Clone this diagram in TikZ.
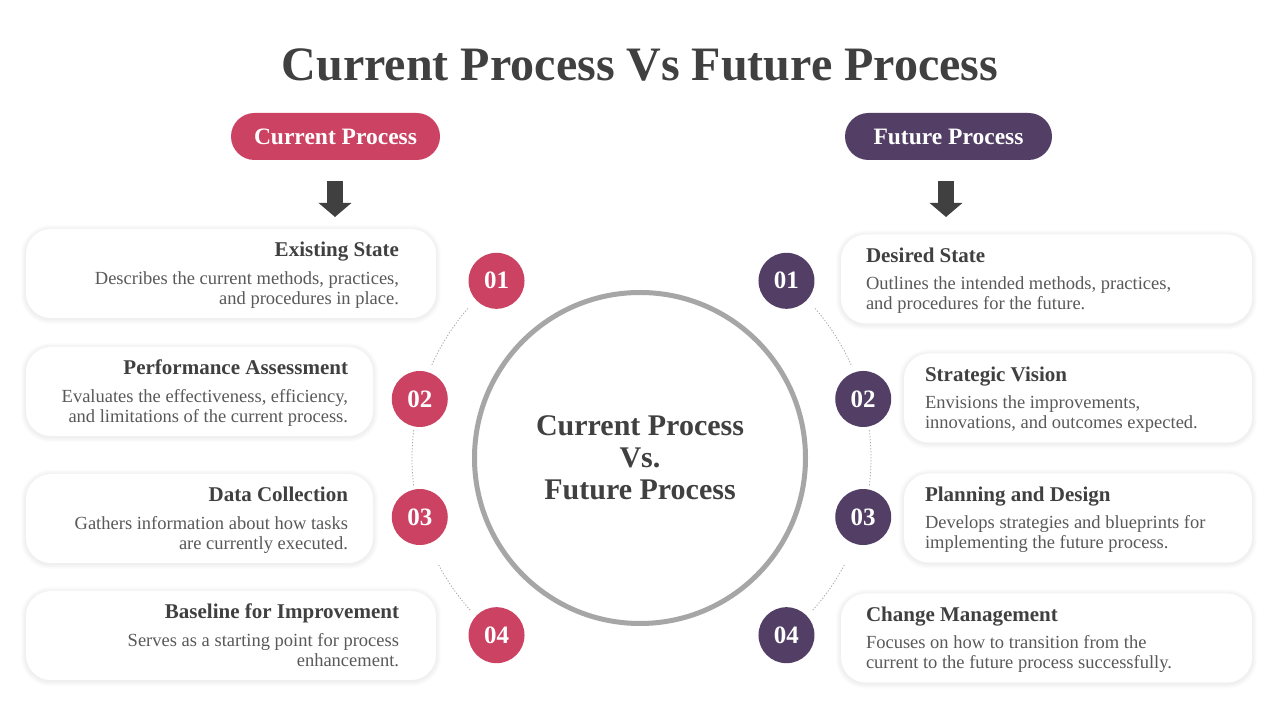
\documentclass[tikz,border=0pt]{standalone}
\usepackage{fontspec}
\setmainfont{Liberation Serif}
\usetikzlibrary{arrows.meta,positioning,calc,backgrounds}
\definecolor{crimson}{HTML}{CC4262}
\definecolor{plum}{HTML}{533F66}
\definecolor{ink}{HTML}{404040}
\definecolor{muted}{HTML}{595959}
\definecolor{ring}{HTML}{A6A6A6}

\tikzset{
  card/.style={fill=white, rounded corners=25pt, minimum height=89pt, inner sep=0pt},
  pill/.style={rounded corners=23.5pt, minimum height=47pt, text=white,
    font=\fontsize{23.5}{28}\selectfont\bfseries},
  badge/.style={circle, minimum size=56pt, inner sep=0pt, text=white,
    font=\fontsize{25}{28}\selectfont\bfseries},
  head/.style={text=ink, font=\fontsize{21}{25}\selectfont\bfseries, inner sep=0pt},
  desc/.style={text=muted, font=\fontsize{18.5}{20}\selectfont, inner sep=0pt},
  dots/.style={ring, line width=0.8pt, dash pattern=on 1.2pt off 1.8pt},
  down/.style={ink, line width=16pt, -{Triangle[length=14pt,width=32pt]}},
}

\begin{document}
\begin{tikzpicture}[x=1pt,y=1pt]
  \useasboundingbox (0,0) rectangle (1280,720);
  % title
  \node[text=ink, font=\fontsize{48}{56}\selectfont\bfseries] (title) at (640,655)
    {Current Process Vs Future Process};
  % column headers
  \node[pill, fill=crimson, minimum width=209pt] (curhead) at (335.5,583.5) {Current Process};
  \node[pill, fill=plum, minimum width=207pt] (futhead) at (948.5,583.5) {Future Process};
  \coordinate (curtop) at (335,539);
  \coordinate (curbot) at (335,503);
  \coordinate (futtop) at (946,539);
  \coordinate (futbot) at (946,503);
  \draw[down] (curtop) -- (curbot);
  \draw[down] (futtop) -- (futbot);
  % centre ring
  \node[circle, draw=ring, line width=5pt, minimum size=331pt, align=center, text=ink,
    font=\fontsize{30}{32}\selectfont\bfseries] (hub) at (640,262)
    {Current Process\\Vs.\\Future Process};
  \coordinate (rhub) at (643,262);
  % numbered badges
  \node[badge, fill=crimson] (cur1) at ($(hub)+(129:228)$) {01};
  \node[badge, fill=crimson] (cur2) at ($(hub)+(165:228)$) {02};
  \node[badge, fill=crimson] (cur3) at ($(hub)+(195:228)$) {03};
  \node[badge, fill=crimson] (cur4) at ($(hub)+(231:228)$) {04};
  \node[badge, fill=plum] (fut1) at ($(rhub)+(51:228)$) {01};
  \node[badge, fill=plum] (fut2) at ($(rhub)+(15:228)$) {02};
  \node[badge, fill=plum] (fut3) at ($(rhub)+(-15:228)$) {03};
  \node[badge, fill=plum] (fut4) at ($(rhub)+(-51:228)$) {04};
  % dotted arcs
  \draw[dots] ($(hub)+(139:228)$) arc[start angle=139, end angle=156, radius=228];
  \draw[dots] ($(hub)+(173:228)$) arc[start angle=173, end angle=187, radius=228];
  \draw[dots] ($(hub)+(208:228)$) arc[start angle=208, end angle=222, radius=228];
  \draw[dots] ($(rhub)+(41:228)$) arc[start angle=41, end angle=24, radius=228];
  \draw[dots] ($(rhub)+(7:228)$) arc[start angle=7, end angle=-7, radius=228];
  \draw[dots] ($(rhub)+(-28:228)$) arc[start angle=-28, end angle=-42, radius=228];
  % current cards
  \node[card, minimum width=410pt] (exist) at (231,446.5) {};
  \node[head, anchor=base east] at ([xshift=-37pt,yshift=16.5pt]exist.east) {Existing State};
  \node[desc, anchor=base east, align=right] at ([xshift=-37pt,yshift=-31pt]exist.east)
    {Describes the current methods, practices,\\and procedures in place.};
  \node[card, minimum width=347pt] (perf) at (199.5,328.5) {};
  \node[head, anchor=base east] at ([xshift=-25pt,yshift=16.5pt]perf.east) {Performance Assessment};
  \node[desc, anchor=base east, align=right] at ([xshift=-25pt,yshift=-31pt]perf.east)
    {Evaluates the effectiveness, efficiency,\\and limitations of the current process.};
  \node[card, minimum width=347pt] (data) at (199.5,201.5) {};
  \node[head, anchor=base east] at ([xshift=-25pt,yshift=16.5pt]data.east) {Data Collection};
  \node[desc, anchor=base east, align=right] at ([xshift=-25pt,yshift=-31pt]data.east)
    {Gathers information about how tasks\\are currently executed.};
  \node[card, minimum width=410pt] (base) at (231,84.5) {};
  \node[head, anchor=base east] at ([xshift=-37pt,yshift=16.5pt]base.east) {Baseline for Improvement};
  \node[desc, anchor=base east, align=right] at ([xshift=-37pt,yshift=-31pt]base.east)
    {Serves as a starting point for process\\enhancement.};
  % future cards
  \node[card, minimum width=411pt] (desired) at (1046.5,441) {};
  \node[head, anchor=base west] at ([xshift=25pt,yshift=16.5pt]desired.west) {Desired State};
  \node[desc, anchor=base west, align=left] at ([xshift=25pt,yshift=-31pt]desired.west)
    {Outlines the intended methods, practices,\\and procedures for the future.};
  \node[card, minimum width=348pt] (vision) at (1078,322) {};
  \node[head, anchor=base west] at ([xshift=21pt,yshift=16.5pt]vision.west) {Strategic Vision};
  \node[desc, anchor=base west, align=left] at ([xshift=21pt,yshift=-31pt]vision.west)
    {Envisions the improvements,\\innovations, and outcomes expected.};
  \node[card, minimum width=348pt] (plan) at (1078,202) {};
  \node[head, anchor=base west] at ([xshift=21pt,yshift=16.5pt]plan.west) {Planning and Design};
  \node[desc, anchor=base west, align=left] at ([xshift=21pt,yshift=-31pt]plan.west)
    {Develops strategies and blueprints for\\implementing the future process.};
  \node[card, minimum width=411pt] (change) at (1046.5,82) {};
  \node[head, anchor=base west] at ([xshift=25pt,yshift=16.5pt]change.west) {Change Management};
  \node[desc, anchor=base west, align=left] at ([xshift=25pt,yshift=-31pt]change.west)
    {Focuses on how to transition from the\\current to the future process successfully.};
  % soft shadows
  \begin{scope}[on background layer]
    \fill[white] (0,0) rectangle (1280,720);
    \foreach \c in {exist,perf,data,base,desired,vision,plan,change}
      \foreach \i in {2,4,...,10}
        \draw[black, opacity=0.012, line width=\i pt, rounded corners=25pt]
          ([yshift=-1pt]\c.south west) rectangle ([yshift=-1pt]\c.north east);
  \end{scope}
\end{tikzpicture}
\end{document}
